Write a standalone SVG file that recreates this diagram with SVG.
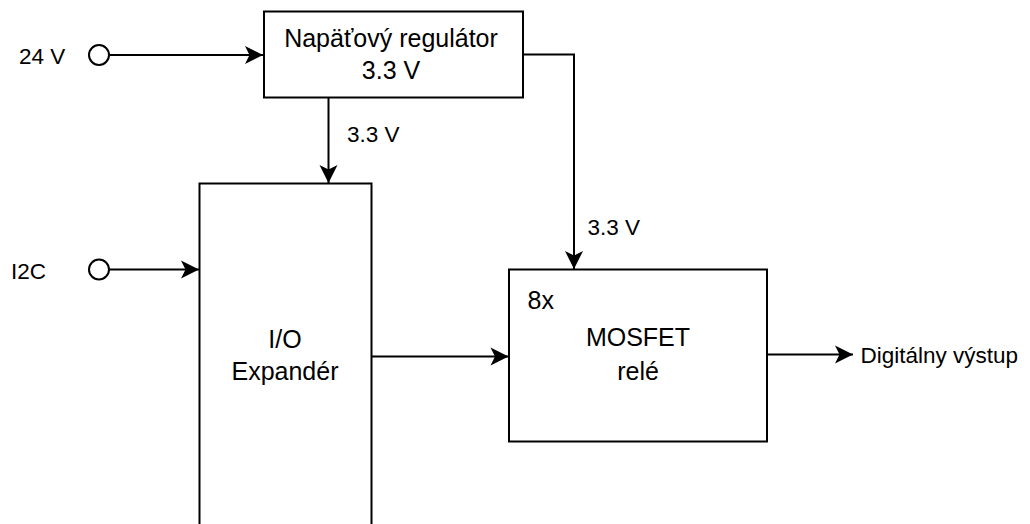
<svg xmlns="http://www.w3.org/2000/svg" width="1030" height="524" viewBox="0 0 1030 524">
<style>
.box{fill:#fff;stroke:#000;stroke-width:2}
.port{fill:#fff;stroke:#000;stroke-width:2}
.edge{fill:none;stroke:#000;stroke-width:2}
.t{font-family:"Liberation Sans",Arial,Helvetica,sans-serif;fill:#000}
.bt{font-size:25px;text-anchor:middle}
.lt{font-size:22.5px}
</style>
<defs>
<marker id="arr" markerUnits="userSpaceOnUse" markerWidth="24" markerHeight="24" viewBox="-20 -12 24 24" refX="0" refY="0" orient="auto">
<path d="M0,0 L-18,-9 L-13.5,0 L-18,9 Z" fill="#000"/>
</marker>
</defs>
<rect width="1030" height="524" fill="#fff"/>
<g id="connectors">
<path class="edge" d="M109,55 H263" marker-end="url(#arr)"/>
<path class="edge" d="M109,269.5 H199" marker-end="url(#arr)"/>
<path class="edge" d="M328.5,97.5 V183" marker-end="url(#arr)"/>
<path class="edge" d="M523,54.5 H574 V269" marker-end="url(#arr)"/>
<path class="edge" d="M372,356.5 H508.5" marker-end="url(#arr)"/>
<path class="edge" d="M767,354.5 H853" marker-end="url(#arr)"/>
<text class="t lt" x="347" y="141.5">3.3 V</text>
<text class="t lt" x="587.5" y="235">3.3 V</text>
</g>
<g id="in24">
<circle class="port" cx="99" cy="55" r="10"/>
<text class="t lt" x="19" y="64">24 V</text>
</g>
<g id="i2c">
<circle class="port" cx="99" cy="269.5" r="10"/>
<text class="t lt" x="11" y="279">I2C</text>
</g>
<g id="regulator">
<rect class="box" x="264" y="11.5" width="259" height="86"/>
<text class="t bt" x="391" y="46.5">Napäťový regulátor</text>
<text class="t bt" x="391" y="78.5">3.3 V</text>
</g>
<g id="expander">
<rect class="box" x="199.5" y="183.5" width="172" height="360"/>
<text class="t bt" x="285" y="347.5">I/O</text>
<text class="t bt" x="285" y="380">Expandér</text>
</g>
<g id="mosfet">
<rect class="box" x="509" y="269.5" width="258" height="172"/>
<text class="t" x="527.5" y="309" font-size="25">8x</text>
<text class="t bt" x="638" y="346">MOSFET</text>
<text class="t bt" x="638" y="380">relé</text>
</g>
<g id="output">
<text class="t lt" x="860.5" y="362.5">Digitálny výstup</text>
</g>
</svg>
